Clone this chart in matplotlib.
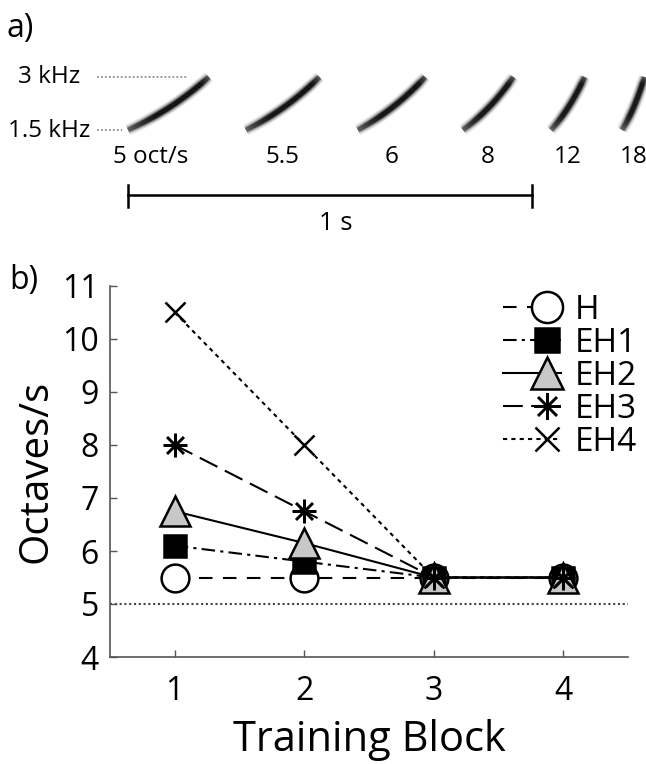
import numpy as np
import matplotlib
matplotlib.use("Agg")
import matplotlib.pyplot as plt
from matplotlib.legend_handler import HandlerLine2D
from matplotlib.collections import LineCollection

plt.rcParams['font.family'] = ['Open Sans', 'DejaVu Sans']

# ---------------- data ----------------
# panel a: FM sweeps
sweep_rates = [5, 5.5, 6, 8, 12, 18]            # oct/s
sweep_onsets = [0.0, 0.292, 0.569, 0.829, 1.047, 1.223]  # s
sweep_labels = ['5 oct/s', '5.5', '6', '8', '12', '18']
f_low, f_high = 1.5, 3.0                        # kHz
freq_labels = ['1.5 kHz', '3 kHz']

# panel b
blocks = [1, 2, 3, 4]
series_names = ['H', 'EH1', 'EH2', 'EH3', 'EH4']
H   = [5.5, 5.5, 5.5, 5.5]
EH1 = [6.1, 5.8, 5.5, 5.5]
EH2 = [6.75, 6.15, 5.5, 5.5]
EH3 = [8.0, 6.75, 5.5, 5.5]
EH4 = [10.5, 8.0, 5.5, 5.5]
chance_level = 5.0
yticks = [4, 5, 6, 7, 8, 9, 10, 11]

W, Hpx = 646, 764
fig = plt.figure(figsize=(W / 100, Hpx / 100), dpi=100)

# ---------------- panel a ----------------
pxs = 404.0          # px per second
px0 = 128.0          # px of t=0
pk = 53.0 / 1.5      # px per kHz
py_low = 130.0
axa = fig.add_axes([0, 1 - 250 / Hpx, 1, 250 / Hpx])
axa.set_xlim(-px0 / pxs, (W - px0) / pxs)
axa.set_ylim(f_low - (250 - py_low) / pk, f_low + py_low / pk)
axa.axis('off')

for r, t0 in zip(sweep_rates, sweep_onsets):
    dur = 1.0 / r
    t = np.linspace(0, dur, 120)
    f = f_low * 2 ** (r * t)
    pts = np.column_stack([t0 + t, f]).reshape(-1, 1, 2)
    segs = np.concatenate([pts[:-1], pts[1:]], axis=1)
    u = np.linspace(0, 1, len(segs))
    ramp = np.clip(0.45 + 1.6 * u, 0, 1) * np.clip(1.0 - 0.5 * np.clip((u - 0.9) / 0.1, 0, 1), 0, 1)
    for lw, a in [(9, 0.08), (7.5, 0.14), (6, 0.25), (4.5, 0.5), (3.2, 0.9)]:
        cols = np.zeros((len(segs), 4))
        cols[:, 3] = a * ramp
        axa.add_collection(LineCollection(segs, colors=cols, linewidths=lw,
                                          capstyle='butt'))

for i, (lab, r, t0) in enumerate(zip(sweep_labels, sweep_rates, sweep_onsets)):
    xc = t0 + 0.5 / r
    if i == 0:
        xc -= 0.045
    axa.text(xc, f_low - 27 / pk, lab, ha='center', va='center', fontsize=17.5)

# frequency reference lines
axa.plot([-0.077, 0.146], [f_high, f_high], color='#8a8a8a', lw=1.3,
         ls=(0, (1, 1.2)))
axa.plot([-0.077, -0.015], [f_low, f_low], color='#8a8a8a', lw=1.3,
         ls=(0, (1, 1.2)))
axa.text(-0.119, f_high, freq_labels[1], ha='right', va='center', fontsize=17.5)
axa.text(-0.094, f_low - 1 / pk, freq_labels[0], ha='right', va='center', fontsize=17.5)

# scale bar 1 s
yb = f_low - 65 / pk
axa.plot([0, 1], [yb, yb], color='black', lw=1.8)
for xe in (0, 1):
    axa.plot([xe, xe], [yb + 10 / pk, yb - 12 / pk], color='black', lw=1.8)
axa.text(0.515, f_low - 93 / pk, '1 s', ha='center', va='center', fontsize=18.5)

fig.text(7 / W, 1 - 28 / Hpx, 'a)', fontsize=23, va='center', ha='left')
fig.text(9 / W, 1 - 281 / Hpx, 'b)', fontsize=23, va='center', ha='left')

# ---------------- panel b ----------------
left, right, top, bottom = 110, 628, 286, 657
ax = fig.add_axes([left / W, 1 - bottom / Hpx, (right - left) / W, (bottom - top) / Hpx])

lw = 1.5
styles = [
    dict(ls=(0, (6.5, 5)), marker='o', ms=20, mfc='white', mec='black'),
    dict(ls=(0, (6.5, 2.5, 1.5, 2.5)), marker='s', ms=16, mfc='black', mec='black'),
    dict(ls='-', marker='^', ms=21, mfc='#c8c8c8', mec='black'),
    dict(ls=(0, (9.5, 4)), marker=(8, 2, 0), ms=17, mfc='black', mec='black'),
    dict(ls=(0, (2, 2)), marker='x', ms=15, mfc='black', mec='black'),
]
data = [H, EH1, EH2, EH3, EH4]
for name, ys, st in zip(series_names, data, styles):
    ax.plot(blocks, ys, color='black', lw=lw, mew=1.8, label=name,
            dash_capstyle='butt', **st)

ax.axhline(chance_level, color='#444444', lw=1.5, ls=(0, (1, 1.3)), zorder=0)

ax.set_xlim(0.5, 4.5)
ax.set_ylim(4, 11)
ax.set_xticks(blocks)
ax.set_yticks(yticks)
for s in ('top', 'right'):
    ax.spines[s].set_visible(False)
for s in ('left', 'bottom'):
    ax.spines[s].set_color('#555555')
    ax.spines[s].set_linewidth(1.2)
ax.tick_params(direction='in', length=5, width=1, color='#555555',
               labelsize=23)
ax.tick_params(axis='y', pad=8)
ax.tick_params(axis='x', pad=13)
ax.set_xlabel('Training Block', fontsize=30, labelpad=8)
ax.set_ylabel('Octaves/s', fontsize=29, labelpad=4)


class HandlerRightMarker(HandlerLine2D):
    def create_artists(self, legend, orig_handle, xdescent, ydescent,
                       width, height, fontsize, trans):
        arts = super().create_artists(legend, orig_handle, xdescent, ydescent,
                                      width, height, fontsize, trans)
        for a in arts:
            xd = np.asarray(a.get_xdata(), float)
            if len(xd) == 3:
                xd[1] = xd[0] + 0.76 * (xd[2] - xd[0])
                a.set_xdata(xd)
        return arts


leg = ax.legend(loc='upper left', bbox_to_anchor=(503 / W, 1 - 294 / Hpx),
                bbox_transform=fig.transFigure, frameon=False, fontsize=24,
                handlelength=1.75, handletextpad=0.4, labelspacing=0.0,
                borderpad=0, borderaxespad=0, numpoints=1, markerscale=1.12,
                handler_map={plt.Line2D: HandlerRightMarker()})

fig.savefig('out.png', dpi=100)
